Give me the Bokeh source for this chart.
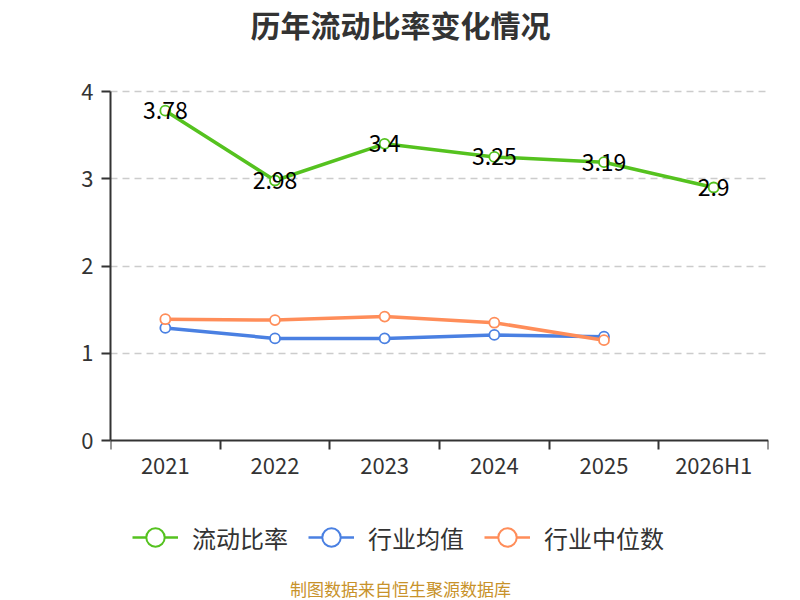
from bokeh.plotting import figure
from bokeh.models import FixedTicker, Legend, LegendItem, Label, Range1d, ColumnDataSource
from bokeh.embed import file_html
from bokeh.resources import INLINE
from bokeh.core.properties import value

categories = ["2021", "2022", "2023", "2024", "2025", "2026H1"]
current_ratio = [3.78, 2.98, 3.40, 3.25, 3.19, 2.90]
industry_avg = [1.29, 1.17, 1.17, 1.21, 1.19]
industry_median = [1.39, 1.38, 1.42, 1.35, 1.15]
y_ticks = [0, 1, 2, 3, 4]

FONT = "Noto Sans CJK SC"
GREEN = "#55c21f"
BLUE = "#4a80e2"
ORANGE = "#ff8d59"

# layout (pixels)
W, H = 784, 600
LEFT, RIGHT = 110, 16
Y_TOP_PX, Y_ZERO_PX = 91, 440          # pixel rows of y=4 and y=0
unit = (Y_ZERO_PX - Y_TOP_PX) / 4.0
y_end = 4 + Y_TOP_PX / unit
y_start = -(H - Y_ZERO_PX) / unit

xs = [i + 0.5 for i in range(len(categories))]
NAN = float("nan")

p = figure(width=W, height=H, output_backend="svg", toolbar_location=None, title=None,
           x_range=Range1d(0, len(categories)), y_range=Range1d(y_start, y_end),
           min_border_left=LEFT, min_border_right=RIGHT, min_border_top=0, min_border_bottom=0)
p.outline_line_color = None
p.background_fill_color = "white"
p.border_fill_color = "white"

# x axis drawn at y = 0
xa = p.xaxis[0]
xa.fixed_location = 0
xa.ticker = FixedTicker(ticks=xs, minor_ticks=list(range(len(categories) + 1)))
xa.major_label_overrides = {x: c for x, c in zip(xs, categories)}
xa.major_tick_line_color = None
xa.minor_tick_out = 9
xa.minor_tick_in = 0
xa.minor_tick_line_color = "#333333"
xa.minor_tick_line_width = 2
xa.axis_line_color = "#333333"
xa.axis_line_width = 2
xa.major_label_text_font = FONT
xa.major_label_text_font_size = "22px"
xa.major_label_text_color = "#333333"
xa.major_label_standoff = -2

ya = p.yaxis[0]
ya.bounds = (0, 4)
ya.ticker = FixedTicker(ticks=y_ticks)
ya.minor_tick_line_color = None
ya.major_tick_out = 9
ya.major_tick_in = 0
ya.major_tick_line_color = "#333333"
ya.major_tick_line_width = 2
ya.axis_line_color = "#333333"
ya.axis_line_width = 2
ya.major_label_text_font = FONT
ya.major_label_text_font_size = "22px"
ya.major_label_text_color = "#333333"
ya.major_label_standoff = 8

p.xgrid.grid_line_color = None
p.ygrid.ticker = FixedTicker(ticks=y_ticks[1:])
p.ygrid.grid_line_color = "#cccccc"
p.ygrid.grid_line_dash = "7 5"
p.ygrid.grid_line_width = 1.5

items = []
for vals, color, name in [(industry_avg, BLUE, "行业均值"),
                          (industry_median, ORANGE, "行业中位数"),
                          (current_ratio, GREEN, "流动比率")]:
    src = ColumnDataSource(dict(x=xs[:len(vals)], y=vals))
    p.line("x", "y", source=src, line_color=color, line_width=3.5)
    p.scatter("x", "y", source=src, size=10, fill_color="white", line_color=color, line_width=1.8)
    leg_line = p.line(x=[NAN], y=[NAN], line_color=color, line_width=2.5)
    leg_mark = p.scatter(x=[NAN], y=[NAN], size=19, fill_color="white", line_color=color, line_width=2)
    items.append(LegendItem(label=name, renderers=[leg_line, leg_mark]))

items = [items[2], items[0], items[1]]

lbl = ColumnDataSource(dict(x=xs, y=current_ratio, t=[f"{v:g}" for v in current_ratio]))
p.text("x", "y", text="t", source=lbl, text_align="center", text_baseline="middle",
       text_font=value(FONT), text_font_size="23px", text_color="#000000")

legend = Legend(items=items, orientation="horizontal", location=(22, 39),
                label_text_font=FONT, label_text_font_size="24px", label_text_color="#333333",
                glyph_width=46, glyph_height=48, spacing=20, label_standoff=14,
                border_line_color=None, background_fill_alpha=0, margin=0, padding=0)
p.add_layout(legend, "center")

title = Label(x=290, y=H - 23, x_units="screen", y_units="screen", text="历年流动比率变化情况",
              text_align="center", text_baseline="middle", text_font=FONT,
              text_font_size="30px", text_font_style="bold", text_color="#333333")
p.add_layout(title)

source_lbl = Label(x=290, y=H - 588, x_units="screen", y_units="screen", text="制图数据来自恒生聚源数据库",
                   text_align="center", text_baseline="middle", text_font=FONT,
                   text_font_size="17px", text_color="#c8922a")
p.add_layout(source_lbl)

open("out.html", "w").write(file_html(p, INLINE))
